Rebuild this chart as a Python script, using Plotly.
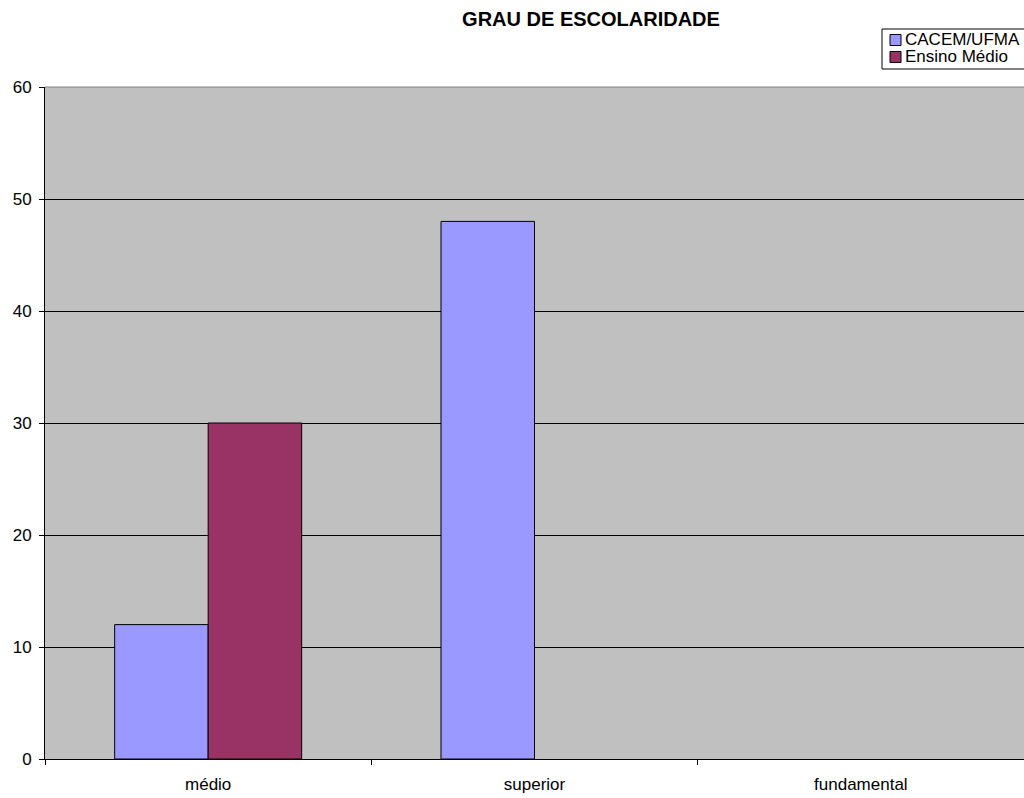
import plotly.graph_objects as go

categories = ["médio", "superior", "fundamental"]
cacem_ufma = [12, 48, 0]
ensino_medio = [30, 0, 0]
y_ticks = [0, 10, 20, 30, 40, 50, 60]

series_names = ["CACEM/UFMA", "Ensino Médio"]
series_colors = ["#9999FF", "#993366"]

W, H = 1024, 798
ML, MR, MT, MB = 45, 0, 87, 39
PW, PH = W - ML - MR, H - MT - MB


def px_x(px):
    return (px - ML) / PW


def px_y(py):
    return (H - MB - py) / PH


fig = go.Figure()
for name, vals, col in zip(series_names, [cacem_ufma, ensino_medio], series_colors):
    fig.add_trace(go.Bar(
        name=name, x=categories, y=vals,
        # empty bars get no outline so nothing is drawn on the baseline
        marker=dict(color=col, line=dict(color="#000000",
                                         width=[1 if v else 0 for v in vals])),
        showlegend=False,
    ))

FONT = "Liberation Sans, Arial, sans-serif"

fig.update_layout(
    width=W, height=H,
    margin=dict(l=ML, r=MR, t=MT, b=MB, autoexpand=False),
    paper_bgcolor="#FFFFFF",
    plot_bgcolor="#C0C0C0",
    barmode="group",
    bargap=0.427,
    bargroupgap=0,
    font=dict(family=FONT, size=17, color="#000000"),
    title=dict(
        text="<b>GRAU DE ESCOLARIDADE</b>",
        x=591 / W, xanchor="center", xref="container",
        y=1 - 19 / H, yanchor="middle", yref="container",
        font=dict(size=20, family=FONT),
    ),
    showlegend=False,
)

# gray top border of the plot area
shapes = [dict(type="line", xref="paper", yref="paper", x0=0, x1=1, y0=1, y1=1,
               line=dict(color="#808080", width=1), layer="above")]

# legend box
lg_left, lg_top, lg_bottom = 882, 29, 69
shapes.append(dict(type="rect", xref="paper", yref="paper",
                   x0=px_x(lg_left), x1=px_x(W + 5), y0=px_y(lg_bottom), y1=px_y(lg_top),
                   fillcolor="#FFFFFF", line=dict(color="#000000", width=1)))
annotations = []
row_y = [40, 57]
for name, col, ry in zip(series_names, series_colors, row_y):
    shapes.append(dict(type="rect", xref="paper", yref="paper",
                       x0=px_x(890), x1=px_x(901), y0=px_y(ry + 5.5), y1=px_y(ry - 5.5),
                       fillcolor=col, line=dict(color="#000000", width=1)))
    annotations.append(dict(text=name, xref="paper", yref="paper",
                            x=px_x(903), y=px_y(ry), xanchor="left", yanchor="middle",
                            showarrow=False, font=dict(size=17, family=FONT)))

fig.update_layout(shapes=shapes, annotations=annotations)

fig.update_xaxes(
    type="category",
    tickson="boundaries",
    ticks="outside", ticklen=5, tickcolor="#000000",
    ticklabelstandoff=10,
    showline=True, linecolor="#000000", linewidth=1,
    showgrid=False,
    tickfont=dict(size=17),
)
fig.update_yaxes(
    range=[0, 60],
    tickvals=y_ticks,
    ticks="outside", ticklen=5, tickcolor="#000000",
    ticklabelstandoff=4,
    showline=True, linecolor="#000000", linewidth=1,
    showgrid=True, gridcolor="#000000", gridwidth=1,
    zeroline=False,
    tickfont=dict(size=17),
)

fig.write_html("out.html")
